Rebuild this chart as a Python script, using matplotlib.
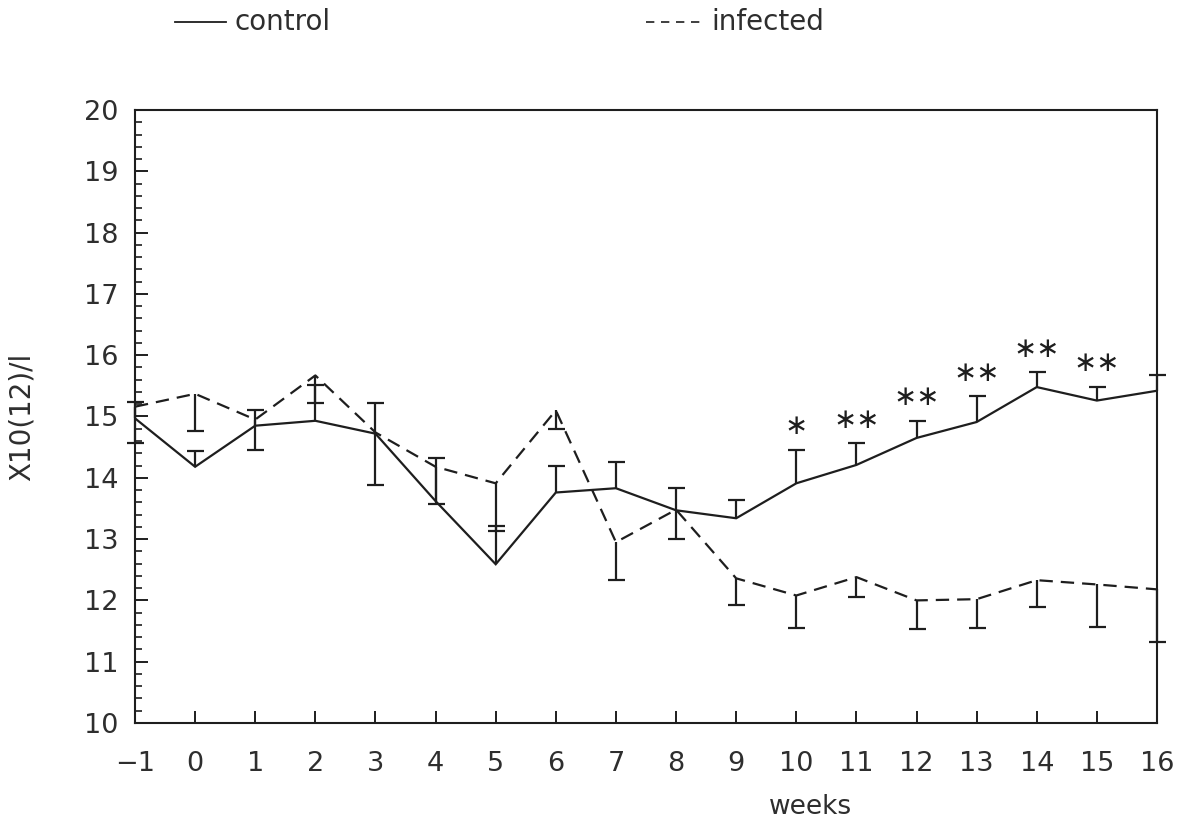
import numpy as np
import matplotlib
matplotlib.use("Agg")
import matplotlib.pyplot as plt
from matplotlib.lines import Line2D
from matplotlib.ticker import MultipleLocator

# Weekly means with one-sided error bars (control upward, infected downward)
weeks = np.arange(-1, 17)
control_mean = np.array([14.97, 14.18, 14.85, 14.93, 14.72, 13.62, 12.59, 13.76, 13.83,
                         13.47, 13.34, 13.91, 14.21, 14.65, 14.91, 15.48, 15.26, 15.42])
control_err_up = np.array([0.26, 0.25, 0.26, 0.59, 0.50, 0.70, 0.63, 0.43, 0.42,
                           0.37, 0.29, 0.55, 0.35, 0.28, 0.42, 0.24, 0.22, 0.25])
infected_mean = np.array([15.16, 15.37, 14.95, 15.67, 14.74, 14.18, 13.91, 15.10, 12.95,
                          13.48, 12.36, 12.08, 12.38, 12.00, 12.02, 12.33, 12.26, 12.18])
infected_err_down = np.array([0.60, 0.61, 0.49, 0.45, 0.85, 0.60, 0.78, 0.30, 0.62,
                              0.48, 0.44, 0.53, 0.32, 0.47, 0.47, 0.44, 0.70, 0.86])
significance = ["", "", "", "", "", "", "", "", "", "", "",
                "*", "**", "**", "**", "**", "**", ""]

x_ticks = list(range(-1, 17))
y_ticks = list(range(10, 21))

INK = "#1e1e1e"
TXT = "#2e2e2e"
plt.rcParams["font.family"] = ["DejaVu Sans"]

fig = plt.figure(figsize=(11.95, 8.22), dpi=100)
W, H = 1195, 822
ax = fig.add_axes([135 / W, 1 - 723 / H, (1157 - 135) / W, (723 - 110) / H])

lw = 1.6
ax.plot(weeks, control_mean, color=INK, lw=lw, solid_joinstyle="miter", zorder=3)
ax.plot(weeks, infected_mean, color=INK, lw=lw, dashes=(6, 3.6), zorder=3)

# error bars: vertical stems plus caps at the outer end only
cap_ms = 17 * 72 / 100
ctrl_top = control_mean + control_err_up
inf_bot = infected_mean - infected_err_down
ax.vlines(weeks, control_mean, ctrl_top, colors=INK, lw=lw, zorder=3, clip_on=False)
ax.plot(weeks, ctrl_top, ls="none", marker="_", ms=cap_ms, mew=lw, color=INK,
        zorder=3, clip_on=False)
ax.vlines(weeks, inf_bot, infected_mean, colors=INK, lw=lw, zorder=3, clip_on=False)
ax.plot(weeks, inf_bot, ls="none", marker="_", ms=cap_ms, mew=lw, color=INK,
        zorder=3, clip_on=False)

# significance markers above the control error bars
for w, top, s in zip(weeks, ctrl_top, significance):
    if s:
        ax.annotate(s.replace("*", "\u2217"), xy=(w, top), xytext=(0, 17),
                    textcoords="offset points", ha="center", va="center",
                    fontsize=20, color=INK)

ax.set_xlim(-1, 16)
ax.set_ylim(10, 20)
ax.set_xticks(x_ticks)
ax.set_xticklabels(["\u2212" + str(-t) if t < 0 else str(t) for t in x_ticks])
ax.set_yticks(y_ticks)
ax.yaxis.set_minor_locator(MultipleLocator(0.2))

ax.tick_params(axis="both", which="major", direction="in", length=9, width=1.4,
               colors=INK, labelcolor=TXT, labelsize=19.5)
ax.tick_params(axis="x", which="major", pad=20)
ax.tick_params(axis="y", which="major", pad=12)
ax.tick_params(axis="y", which="minor", direction="in", length=5, width=1.2, colors=INK)
ax.tick_params(axis="x", which="minor", bottom=False)

for sp in ax.spines.values():
    sp.set_color(INK)
    sp.set_linewidth(1.5)

ax.set_xlabel("weeks", fontsize=19, color=TXT, va="baseline")
ax.xaxis.set_label_coords((810 - 135) / 1022, (723 - 814) / 613)
ax.set_ylabel("X10(12)/l", fontsize=20, color=TXT, va="center")
ax.yaxis.set_label_coords((22 - 135) / 1022, 0.5)

# key at the top of the figure
ly = 1 - 22 / H
fig.add_artist(Line2D([175 / W, 226 / W], [ly, ly], color=INK, lw=1.3))
fig.text(234 / W, ly, "control", fontsize=20, color=TXT, va="center", ha="left")
fig.add_artist(Line2D([646 / W, 700 / W], [ly, ly], color=INK, lw=1.2,
                      dashes=(5, 4)))
fig.text(711 / W, ly, "infected", fontsize=20, color=TXT, va="center", ha="left")

fig.savefig("out.png", dpi=100, facecolor="white")
